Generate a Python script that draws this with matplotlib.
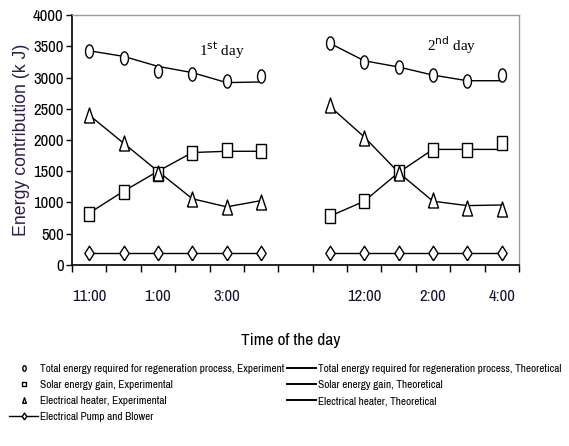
import numpy as np
import matplotlib.pyplot as plt
from matplotlib.lines import Line2D
from matplotlib import font_manager

# hourly slots on the time axis, day 1 and day 2
x_day1 = [0.5, 1.5, 2.5, 3.5, 4.5, 5.5]
x_day2 = [7.5, 8.5, 9.5, 10.5, 11.5, 12.5]
tick_pos = [0.5, 2.5, 4.5, 8.5, 10.5, 12.5]
tick_lab = ['11:00', '1:00', '3:00', '12:00', '2:00', '4:00']

# total energy for regeneration (kJ)
total_exp_1 = [3430, 3320, 3110, 3050, 2940, 3020]
total_th_1 = [3430, 3340, 3180, 3080, 2920, 2930]
total_exp_2 = [3550, 3250, 3170, 3040, 2940, 3040]
total_th_2 = [3550, 3270, 3170, 3040, 2950, 2950]

# solar energy gain (kJ)
solar_exp_1 = [820, 1170, 1450, 1790, 1840, 1820]
solar_th_1 = [830, 1180, 1500, 1800, 1820, 1820]
solar_exp_2 = [780, 1020, 1490, 1840, 1840, 1950]
solar_th_2 = [780, 1020, 1480, 1850, 1850, 1850]

# electrical heater (kJ)
heater_exp_1 = [2400, 1960, 1480, 1060, 920, 1010]
heater_th_1 = [2400, 1950, 1500, 1060, 930, 1030]
heater_exp_2 = [2560, 2040, 1470, 1040, 910, 890]
heater_th_2 = [2540, 2050, 1480, 1020, 950, 960]

# pump and blower (kJ)
pump_1 = [190, 190, 190, 190, 190, 190]
pump_2 = [190, 190, 190, 190, 190, 190]


def pick(cands):
    have = set(f.name for f in font_manager.fontManager.ttflist)
    for c in cands:
        if c in have:
            return c
    return 'DejaVu Sans'


narrow = pick(['Liberation Sans Narrow', 'Arial Narrow', 'Archivo Narrow', 'PT Sans Narrow',
               'Roboto Condensed', 'Pragati Narrow', 'Encode Sans Condensed', 'Fira Sans Condensed',
               'IBM Plex Sans Condensed', 'Open Sans Condensed'])
serif = pick(['Liberation Serif', 'Times New Roman', 'DejaVu Serif'])
sans = pick(['Liberation Sans', 'Arimo', 'DejaVu Sans'])

# tall, narrow marker shapes
t = np.linspace(0, 2 * np.pi, 61)
m_oval = np.column_stack([0.6 * np.cos(t), np.sin(t)])
m_rect = np.array([[-0.72, -1], [0.72, -1], [0.72, 1], [-0.72, 1], [-0.72, -1]])
m_tri = np.array([[-0.67, -1], [0.67, -1], [0, 1], [-0.67, -1]])
m_dia = np.array([[0, -1], [0.64, 0], [0, 1], [-0.64, 0], [0, -1]])

fig = plt.figure(figsize=(5.69, 4.46), dpi=100)
ax = fig.add_axes([0.1265, 0.406, 0.7855, 0.56])

series = [(x_day1, total_th_1, total_exp_1, m_oval, 9.5), (x_day2, total_th_2, total_exp_2, m_oval, 9.5),
          (x_day1, solar_th_1, solar_exp_1, m_rect, 10), (x_day2, solar_th_2, solar_exp_2, m_rect, 10),
          (x_day1, heater_th_1, heater_exp_1, m_tri, 10.8), (x_day2, heater_th_2, heater_exp_2, m_tri, 10.8)]
for xs, th, ex, m, size in series:
    ax.plot(xs, th, color='black', lw=1.0, zorder=2)
    ax.plot(xs, ex, ls='none', marker=m, ms=size, mfc='white', mec='black', mew=1.0, zorder=3)
for xs, p in [(x_day1, pump_1), (x_day2, pump_2)]:
    ax.plot(xs, p, color='black', lw=1.0, marker=m_dia, mfc='white', mec='black', mew=1.0, ms=10.5)

ax.set_xlim(0, 13)
ax.set_ylim(0, 4000)
ax.set_yticks(np.arange(0, 4001, 500))
ax.set_xticks(np.arange(0, 14))
ax.set_xticklabels([])
ax.tick_params(axis='x', direction='out', length=5, width=1)
ax.tick_params(axis='y', direction='out', length=4, width=1, pad=2)
for lab in ax.get_yticklabels():
    lab.set_family(narrow)
    lab.set_fontsize(12)

# time labels sit well below the axis
for p, tl in zip(tick_pos, tick_lab):
    ax.text(p, -500, tl, ha='center', va='center', family=narrow, fontsize=12, color='#1a1030')

for s in ['top', 'right']:
    ax.spines[s].set_color('#9a9a9a')
    ax.spines[s].set_linewidth(1.0)
for s in ['left', 'bottom']:
    ax.spines[s].set_linewidth(1.2)

ax.text(4.36, 3440, r'1$^{\rm st}$ day', family=serif, fontsize=11, ha='center', va='center')
ax.text(11.05, 3520, r'2$^{\rm nd}$ day', family=serif, fontsize=11, ha='center', va='center')

fig.text(0.037, 0.686, 'Energy contribution (k J)', rotation=90, ha='center', va='center',
         family=sans, fontsize=12.8, color='#2e1d4f')
fig.text(0.51, 0.237, 'Time of the day', ha='center', va='center', family=narrow, fontsize=12.5)

handles = [
    Line2D([], [], ls='none', marker=m_oval, mfc='white', mec='black', ms=4),
    Line2D([], [], ls='none', marker=m_rect, mfc='white', mec='black', ms=3.5),
    Line2D([], [], ls='none', marker=m_tri, mfc='white', mec='black', ms=4),
    Line2D([], [], color='black', lw=1, marker=m_dia, mfc='white', mec='black', ms=5),
    Line2D([], [], color='black', lw=1.4),
    Line2D([], [], color='black', lw=1.4),
    Line2D([], [], color='black', lw=1.4),
]
labels = [
    'Total energy required for regeneration process, Experiment',
    'Solar energy gain, Experimental',
    'Electrical heater, Experimental',
    'Electrical Pump and Blower',
    'Total energy required for regeneration process, Theoretical',
    'Solar energy gain, Theoretical',
    'Electrical heater, Theoretical',
]
fig.legend(handles, labels, ncol=2, loc='upper left', bbox_to_anchor=(0.008, 0.195),
           frameon=False, prop={'family': narrow, 'size': 8.1}, handlelength=2.6,
           handletextpad=0.15, columnspacing=0.25, labelspacing=0.56, borderaxespad=0)

fig.savefig('out.png', dpi=100)
